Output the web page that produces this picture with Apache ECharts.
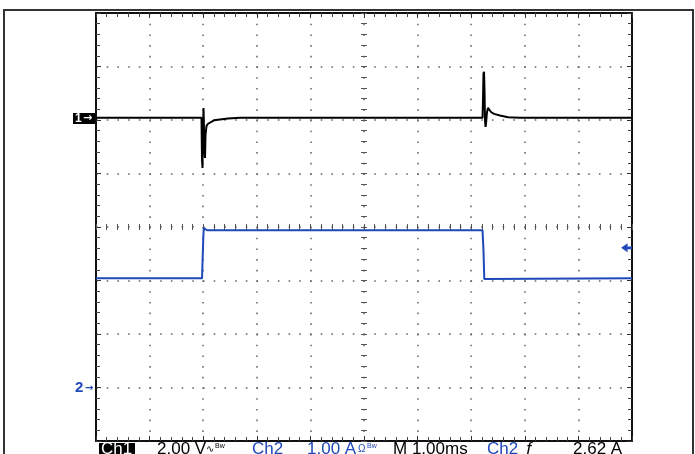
<!DOCTYPE html>
<html>
<head>
<meta charset="utf-8">
<script src="https://cdn.jsdelivr.net/npm/echarts@6/dist/echarts.min.js"></script>
<style>
  html, body { margin: 0; padding: 0; background: #fff; }
  #chart { width: 695px; height: 454px; }
</style>
</head>
<body>
<div id="chart"></div>
<script>
// scope capture: time in ms (1.00 ms/div), Ch1 in V (2.00 V/div), Ch2 in A (1.00 A/div)
var ch1Time = [0, 1.968, 1.978, 1.987, 1.996, 2.006, 2.015, 2.024, 2.034, 2.043, 2.062, 2.090, 2.127, 2.201, 2.313, 2.463, 2.687,
  7.211, 7.220, 7.229, 7.239, 7.248, 7.257, 7.267, 7.276, 7.295, 7.313, 7.332, 7.369, 7.425, 7.537, 7.687, 7.910, 10]
var ch1Volts = [0, 0, -1.57, -1.87, -0.45, 0.37, 0.30, -1.20, -1.50, -0.64, -0.30, -0.22, -0.15, -0.09, -0.06, -0.02, 0,
  0, 0.67, 1.64, 1.72, 1.05, -0.07, -0.34, -0.22, 0.22, 0.37, 0.30, 0.22, 0.15, 0.09, 0.02, 0, 0]

var ch2Time = [0, 1.978, 1.989, 2.002, 2.011, 2.034, 2.071, 7.211, 7.229, 7.244, 7.276, 10]
var ch2Amps = [2.05, 2.05, 2.39, 2.82, 2.99, 3.00, 2.95, 2.95, 2.58, 2.04, 2.05, 2.05]

var ch1Scale = 2.00   // V/div
var ch2Scale = 1.00   // A/div
var ch1Pos = 6.04     // ground marker, divisions above bottom
var ch2Pos = 0.99
var trigLevel = 2.62  // A

var infoLabels = ['2.00 V', 'Ch2', '1.00 A', 'M 1.00ms', 'Ch2', '2.62 A']

var BLUE = '#1f48b8'
var GRID = { left: 96, top: 13, width: 536, height: 428 }

function zip(a, b) {
  return a.map(function (v, i) { return [v, b[i]] })
}

var dots = { show: true, lineStyle: { color: '#666', width: 1.5, type: [1.6, 9.1] } }

function borderAxis(pos, split) {
  return {
    type: 'value', position: pos,
    axisLine: { show: true, onZero: false, lineStyle: { color: '#111', width: 2 } },
    axisTick: { show: true, inside: true, length: 5, lineStyle: { color: '#333' } },
    minorTick: { show: true, splitNumber: 5, length: 4, lineStyle: { color: '#444' } },
    axisLabel: { show: false },
    splitLine: split ? dots : { show: false }
  }
}

function centerAxis(pos, offset, inside) {
  return {
    type: 'value', position: pos, offset: offset,
    axisLine: { show: false, onZero: false },
    axisTick: { show: true, inside: inside, length: 3, lineStyle: { color: '#555' } },
    minorTick: { show: true, splitNumber: 5, length: 3, lineStyle: { color: '#555' } },
    axisLabel: { show: false },
    splitLine: { show: false }
  }
}

var xAxes = [
  borderAxis('bottom', true), borderAxis('top', false),
  centerAxis('bottom', -GRID.height / 2, true), centerAxis('bottom', -GRID.height / 2, false)
]
xAxes.forEach(function (a) { a.min = 0; a.max = 10; a.interval = 1 })

var yAxes = [
  borderAxis('left', true), borderAxis('right', false),
  centerAxis('left', -GRID.width / 2, true), centerAxis('left', -GRID.width / 2, false)
]
yAxes.forEach(function (a) { a.min = 0; a.max = 8; a.interval = 1 })
// hidden channel scales
yAxes.push({ type: 'value', show: false, min: -ch1Pos * ch1Scale, max: (8 - ch1Pos) * ch1Scale })
yAxes.push({ type: 'value', show: false, min: -ch2Pos * ch2Scale, max: (8 - ch2Pos) * ch2Scale })

var chart = echarts.init(document.getElementById('chart'))
var fontFam = '"Liberation Sans", Arial, sans-serif'
var arrowFam = '"DejaVu Sans", sans-serif'
var txtTop = 441

chart.setOption({
  animation: false,
  grid: { left: GRID.left, top: GRID.top, width: GRID.width, height: GRID.height },
  xAxis: xAxes,
  yAxis: yAxes,
  series: [
    {
      name: 'Ch1', type: 'line', xAxisIndex: 0, yAxisIndex: 4,
      data: zip(ch1Time, ch1Volts), showSymbol: false,
      lineStyle: { color: '#000', width: 2 }, z: 5
    },
    {
      name: 'Ch2', type: 'line', xAxisIndex: 0, yAxisIndex: 5,
      data: zip(ch2Time, ch2Amps), showSymbol: false,
      lineStyle: { color: BLUE, width: 2 }, z: 4,
      markPoint: {
        symbol: 'path://M0,5 L7,0 L7,3.5 L12,3.5 L12,6.5 L7,6.5 L7,10 Z',
        symbolSize: [11, 9],
        itemStyle: { color: BLUE },
        label: { show: false },
        data: [{ coord: [9.9, trigLevel] }]
      }
    }
  ],
  graphic: [
    { type: 'rect', shape: { x: 4, y: 10, width: 689, height: 460 }, style: { fill: 'none', stroke: '#333', lineWidth: 2 }, silent: true },
    // Ch1 ground marker
    { type: 'rect', shape: { x: 73, y: 113, width: 22, height: 11 }, style: { fill: '#000' } },
    { type: 'text', x: 75, y: 119, style: { text: '1', fill: '#fff', font: 'bold 12px ' + fontFam, textVerticalAlign: 'middle' } },
    { type: 'text', x: 83, y: 118.5, style: { text: '\u2192', fill: '#fff', font: 'bold 11px ' + arrowFam, textVerticalAlign: 'middle' } },
    // Ch2 ground marker
    { type: 'text', x: 75, y: 388, style: { text: '2', fill: BLUE, font: 'bold 15px ' + fontFam, textVerticalAlign: 'middle' } },
    { type: 'text', x: 85, y: 388, style: { text: '\u2192', fill: BLUE, font: 'bold 10px ' + arrowFam, textVerticalAlign: 'middle' } },
    // readout line
    { type: 'rect', shape: { x: 99, y: 443, width: 36, height: 14 }, style: { fill: '#000' } },
    { type: 'text', x: 101, y: txtTop, style: { text: 'Ch1', fill: '#fff', font: '17px ' + fontFam, textVerticalAlign: 'top' } },
    { type: 'text', x: 157, y: txtTop, style: { text: infoLabels[0], fill: '#000', font: '17px ' + fontFam, textVerticalAlign: 'top' } },
    { type: 'text', x: 206, y: 444, style: { text: '\u223F', fill: '#000', font: '10px ' + arrowFam, textVerticalAlign: 'top' } },
    { type: 'text', x: 215, y: 443, style: { text: 'Bw', fill: '#000', font: '7px ' + fontFam, textVerticalAlign: 'top' } },
    { type: 'text', x: 252, y: txtTop, style: { text: infoLabels[1], fill: BLUE, font: '17px ' + fontFam, textVerticalAlign: 'top' } },
    { type: 'text', x: 307, y: txtTop, style: { text: infoLabels[2], fill: BLUE, font: '17px ' + fontFam, textVerticalAlign: 'top' } },
    { type: 'text', x: 358, y: 444, style: { text: '\u03A9', fill: BLUE, font: '10px ' + fontFam, textVerticalAlign: 'top' } },
    { type: 'text', x: 367, y: 443, style: { text: 'Bw', fill: BLUE, font: '7px ' + fontFam, textVerticalAlign: 'top' } },
    { type: 'text', x: 393, y: txtTop, style: { text: infoLabels[3], fill: '#000', font: '17px ' + fontFam, textVerticalAlign: 'top' } },
    { type: 'text', x: 487, y: txtTop, style: { text: infoLabels[4], fill: BLUE, font: '17px ' + fontFam, textVerticalAlign: 'top' } },
    { type: 'text', x: 524, y: txtTop, style: { text: '\u0192', fill: '#000', font: 'italic 17px ' + fontFam, textVerticalAlign: 'top' } },
    { type: 'text', x: 573, y: txtTop, style: { text: infoLabels[5], fill: '#000', font: '17px ' + fontFam, textVerticalAlign: 'top' } }
  ]
})
</script>
</body>
</html>
